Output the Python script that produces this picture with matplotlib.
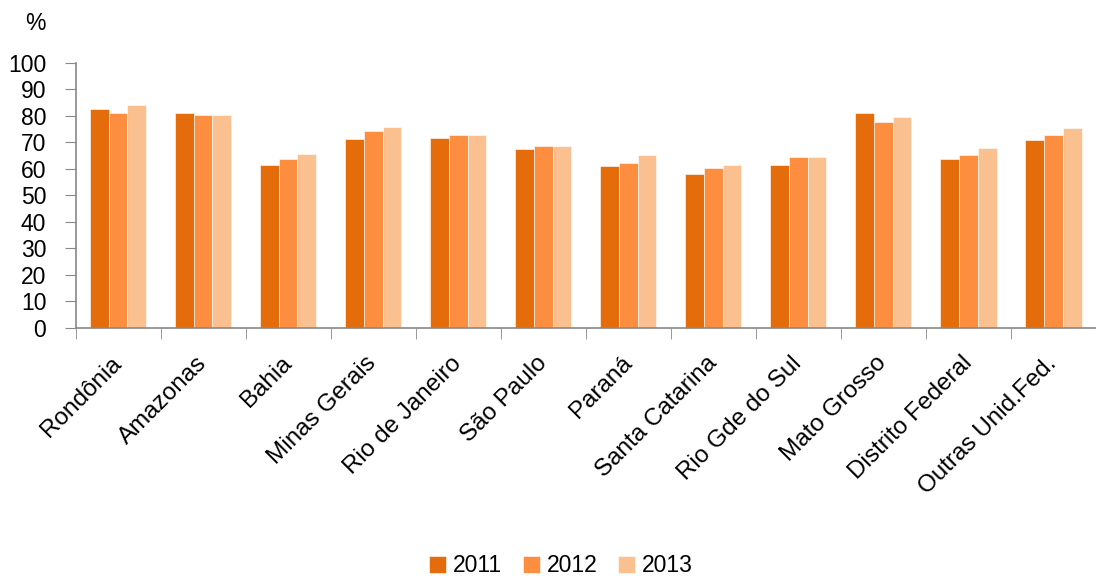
import numpy as np
import matplotlib.pyplot as plt

plt.rcParams['font.family'] = ['Liberation Sans', 'DejaVu Sans']

estados = ['Rondônia', 'Amazonas', 'Bahia', 'Minas Gerais', 'Rio de Janeiro', 'São Paulo',
           'Paraná', 'Santa Catarina', 'Rio Gde do Sul', 'Mato Grosso', 'Distrito Federal',
           'Outras Unid.Fed.']
v2011 = [82.6, 81.1, 61.3, 71.2, 71.6, 67.5, 60.9, 58.1, 61.5, 81.0, 63.5, 70.7]
v2012 = [81.1, 80.3, 63.7, 74.1, 72.6, 68.4, 62.2, 60.3, 64.5, 77.6, 65.0, 72.8]
v2013 = [84.0, 80.1, 65.7, 75.7, 72.6, 68.7, 65.0, 61.3, 64.5, 79.3, 67.8, 75.3]
anos = ['2011', '2012', '2013']
cores = ['#e46c0a', '#fd8e40', '#fac08f']

fig = plt.figure(figsize=(10.96, 5.76), dpi=100)
ax = fig.add_axes([75.5/1096, 1 - 328/576, 1 - 75.5/1096, 265.5/576])

x = np.arange(len(estados))
w = 0.22
for i, (vals, ano, c) in enumerate(zip([v2011, v2012, v2013], anos, cores)):
    ax.bar(x + (i - 1) * w, vals, w, color=c, label=ano, edgecolor='white', linewidth=0.4)

ax.set_ylim(0, 100)
ax.set_xlim(-0.5, 11.41)
ax.set_yticks(range(0, 101, 10))
ax.tick_params(axis='y', labelsize=16.5, length=8, color='#888888', pad=13)

ax.set_xticks(x)
ax.set_xticklabels(estados, rotation=45, ha='right', va='center', rotation_mode='anchor', fontsize=17.5)
ax.tick_params(axis='x', which='major', length=0, pad=23)
ax.set_xticks(np.arange(-0.5, 11.6, 1), minor=True)
ax.tick_params(axis='x', which='minor', length=8, color='#888888')

for s in ['top', 'right']:
    ax.spines[s].set_visible(False)
for s in ['left', 'bottom']:
    ax.spines[s].set_color('#888888')
    ax.spines[s].set_linewidth(1.2)

fig.text(35/1096, 1 - 23/576, '%', fontsize=16.5, ha='center', va='center')

fig.legend(loc='center', bbox_to_anchor=(0.512, 1 - 566/576), ncol=3, frameon=False,
           fontsize=16.5, handlelength=0.75, handleheight=0.75, handletextpad=0.3, columnspacing=0.9)

fig.savefig('out.png', dpi=100)
